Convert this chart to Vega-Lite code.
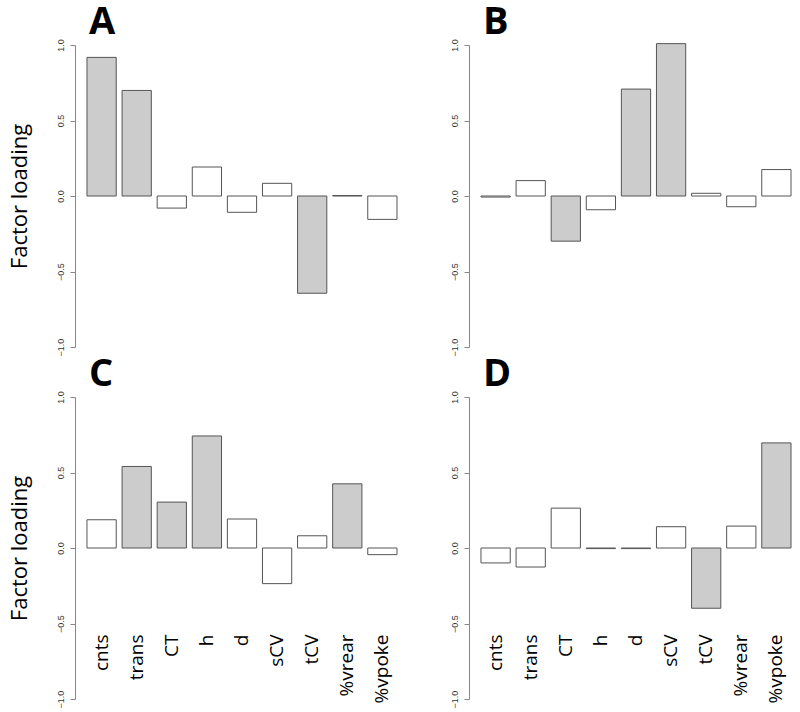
{
  "$schema": "https://vega.github.io/schema/vega-lite/v6.json",
  "padding": {"left": 8, "top": 3, "right": 0, "bottom": 0},
  "background": "white",
  "data": {"values": [
    {"panel": "A", "var": "cnts", "value": 0.918, "sig": "yes"},
    {"panel": "A", "var": "trans", "value": 0.699, "sig": "yes"},
    {"panel": "A", "var": "CT", "value": -0.080, "sig": "no"},
    {"panel": "A", "var": "h", "value": 0.192, "sig": "no"},
    {"panel": "A", "var": "d", "value": -0.108, "sig": "no"},
    {"panel": "A", "var": "sCV", "value": 0.084, "sig": "no"},
    {"panel": "A", "var": "tCV", "value": -0.644, "sig": "yes"},
    {"panel": "A", "var": "%vrear", "value": 0.003, "sig": "no"},
    {"panel": "A", "var": "%vpoke", "value": -0.155, "sig": "no"},
    {"panel": "B", "var": "cnts", "value": -0.007, "sig": "no"},
    {"panel": "B", "var": "trans", "value": 0.102, "sig": "no"},
    {"panel": "B", "var": "CT", "value": -0.299, "sig": "yes"},
    {"panel": "B", "var": "h", "value": -0.091, "sig": "no"},
    {"panel": "B", "var": "d", "value": 0.708, "sig": "yes"},
    {"panel": "B", "var": "sCV", "value": 1.009, "sig": "yes"},
    {"panel": "B", "var": "tCV", "value": 0.018, "sig": "no"},
    {"panel": "B", "var": "%vrear", "value": -0.071, "sig": "no"},
    {"panel": "B", "var": "%vpoke", "value": 0.175, "sig": "no"},
    {"panel": "C", "var": "cnts", "value": 0.187, "sig": "no"},
    {"panel": "C", "var": "trans", "value": 0.540, "sig": "yes"},
    {"panel": "C", "var": "CT", "value": 0.304, "sig": "yes"},
    {"panel": "C", "var": "h", "value": 0.742, "sig": "yes"},
    {"panel": "C", "var": "d", "value": 0.192, "sig": "no"},
    {"panel": "C", "var": "sCV", "value": -0.236, "sig": "no"},
    {"panel": "C", "var": "tCV", "value": 0.081, "sig": "no"},
    {"panel": "C", "var": "%vrear", "value": 0.425, "sig": "yes"},
    {"panel": "C", "var": "%vpoke", "value": -0.044, "sig": "no"},
    {"panel": "D", "var": "cnts", "value": -0.099, "sig": "no"},
    {"panel": "D", "var": "trans", "value": -0.126, "sig": "no"},
    {"panel": "D", "var": "CT", "value": 0.264, "sig": "no"},
    {"panel": "D", "var": "h", "value": -0.004, "sig": "no"},
    {"panel": "D", "var": "d", "value": -0.004, "sig": "no"},
    {"panel": "D", "var": "sCV", "value": 0.141, "sig": "no"},
    {"panel": "D", "var": "tCV", "value": -0.399, "sig": "yes"},
    {"panel": "D", "var": "%vrear", "value": 0.145, "sig": "no"},
    {"panel": "D", "var": "%vpoke", "value": 0.696, "sig": "yes"}
  ]},
  "columns": 2,
  "bounds": "flush",
  "spacing": {"row": 50, "column": 68},
  "concat": [
    {
      "title": {"text": "A"},
      "width": 326, "height": 302,
      "transform": [{"filter": "datum.panel === 'A'"}],
      "mark": {"type": "bar", "stroke": "#555555", "strokeWidth": 1},
      "encoding": {
        "x": {"field": "var", "type": "nominal", "sort": ["cnts","trans","CT","h","d","sCV","tCV","%vrear","%vpoke"], "scale": {"paddingInner": 0.1667, "paddingOuter": 0.2275, "align": 0.75}, "axis": null},
        "y": {"field": "value", "type": "quantitative", "scale": {"domain": [-1, 1], "nice": false, "zero": false}, "axis": {"title": "Factor loading", "values": [-1, -0.5, 0, 0.5, 1], "format": ".1f"}},
        "fill": {"field": "sig", "type": "nominal", "scale": {"domain": ["yes", "no"], "range": ["#cccccc", "#ffffff"]}, "legend": null}
      }
    },
    {
      "title": {"text": "B"},
      "width": 326, "height": 302,
      "transform": [{"filter": "datum.panel === 'B'"}],
      "mark": {"type": "bar", "stroke": "#555555", "strokeWidth": 1},
      "encoding": {
        "x": {"field": "var", "type": "nominal", "sort": ["cnts","trans","CT","h","d","sCV","tCV","%vrear","%vpoke"], "scale": {"paddingInner": 0.1667, "paddingOuter": 0.2275, "align": 0.75}, "axis": null},
        "y": {"field": "value", "type": "quantitative", "scale": {"domain": [-1, 1], "nice": false, "zero": false}, "axis": {"title": null, "values": [-1, -0.5, 0, 0.5, 1], "format": ".1f"}},
        "fill": {"field": "sig", "type": "nominal", "scale": {"domain": ["yes", "no"], "range": ["#cccccc", "#ffffff"]}, "legend": null}
      }
    },
    {
      "title": {"text": "C"},
      "width": 326, "height": 302,
      "transform": [{"filter": "datum.panel === 'C'"}],
      "mark": {"type": "bar", "stroke": "#555555", "strokeWidth": 1},
      "encoding": {
        "x": {"field": "var", "type": "nominal", "sort": ["cnts","trans","CT","h","d","sCV","tCV","%vrear","%vpoke"], "scale": {"paddingInner": 0.1667, "paddingOuter": 0.2275, "align": 0.75},
          "axis": {"title": null, "domain": false, "ticks": false, "tickSize": 0, "labelAngle": 270, "labelAlign": "right", "labelBaseline": "middle", "labelPadding": -65, "labelFont": "Open Sans", "labelFontSize": 19, "labelColor": "#000000"}},
        "y": {"field": "value", "type": "quantitative", "scale": {"domain": [-1, 1], "nice": false, "zero": false}, "axis": {"title": "Factor loading", "values": [-1, -0.5, 0, 0.5, 1], "format": ".1f"}},
        "fill": {"field": "sig", "type": "nominal", "scale": {"domain": ["yes", "no"], "range": ["#cccccc", "#ffffff"]}, "legend": null}
      }
    },
    {
      "title": {"text": "D"},
      "width": 326, "height": 302,
      "transform": [{"filter": "datum.panel === 'D'"}],
      "mark": {"type": "bar", "stroke": "#555555", "strokeWidth": 1},
      "encoding": {
        "x": {"field": "var", "type": "nominal", "sort": ["cnts","trans","CT","h","d","sCV","tCV","%vrear","%vpoke"], "scale": {"paddingInner": 0.1667, "paddingOuter": 0.2275, "align": 0.75},
          "axis": {"title": null, "domain": false, "ticks": false, "tickSize": 0, "labelAngle": 270, "labelAlign": "right", "labelBaseline": "middle", "labelPadding": -65, "labelFont": "Open Sans", "labelFontSize": 19, "labelColor": "#000000"}},
        "y": {"field": "value", "type": "quantitative", "scale": {"domain": [-1, 1], "nice": false, "zero": false}, "axis": {"title": null, "values": [-1, -0.5, 0, 0.5, 1], "format": ".1f"}},
        "fill": {"field": "sig", "type": "nominal", "scale": {"domain": ["yes", "no"], "range": ["#cccccc", "#ffffff"]}, "legend": null}
      }
    }
  ],
  "config": {
    "view": {"stroke": null},
    "title": {"font": "Open Sans", "fontSize": 38, "fontWeight": "bold", "color": "#000000", "anchor": "start", "frame": "group", "dx": 14, "offset": -3},
    "axisY": {
      "grid": false,
      "labelAngle": 270, "labelFont": "Liberation Sans", "labelFontSize": 9, "labelColor": "#333333", "labelPadding": 5,
      "tickSize": 5, "tickColor": "#888888", "domainColor": "#888888",
      "titleFont": "Open Sans", "titleFontSize": 22, "titleFontWeight": "normal", "titleColor": "#000000", "titlePadding": 25
    }
  }
}
